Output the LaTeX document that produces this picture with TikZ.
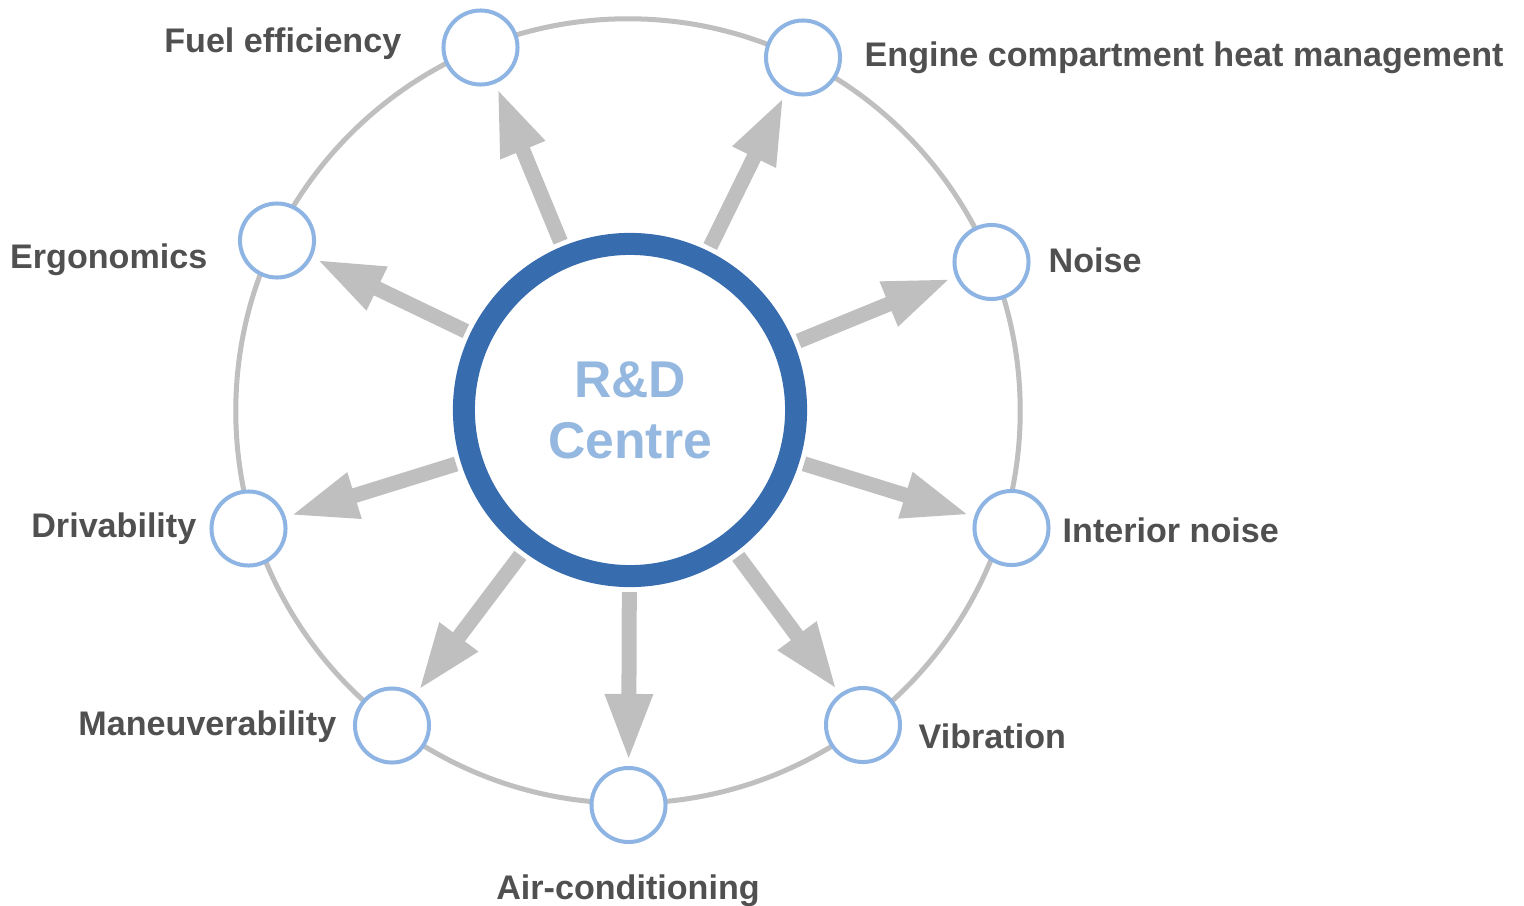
\documentclass[tikz,border=0pt]{standalone}
\usepackage{fontspec}
\setmainfont{Liberation Sans}
\usetikzlibrary{arrows.meta}

\definecolor{ringblue}{HTML}{376CAE}
\definecolor{lightblue}{HTML}{95B8E0}
\definecolor{edgeblue}{HTML}{8EB4E3}
\definecolor{arrowgray}{HTML}{BFBFBF}
\definecolor{textgray}{HTML}{505050}

\tikzset{
  topic/.style={circle, draw=edgeblue, fill=white, line width=0.04cm,
    minimum size=0.74cm, inner sep=0pt},
  centre/.style={circle, draw=ringblue, fill=white, line width=0.22cm,
    minimum size=3.32cm, inner sep=0pt, text=lightblue, align=center,
    font=\fontsize{14.7}{17.3}\selectfont\bfseries},
  lbl/.style={text=textgray, inner sep=0pt,
    font=\fontsize{9.7}{11}\selectfont\bfseries},
  push/.style={draw=arrowgray, line width=0.15cm,
    -{Triangle[width=0.44cm,length=0.67cm]},
    shorten <=0.05cm, shorten >=0.05cm}
}

\begin{document}
\begin{tikzpicture}[x=0.01cm, y=-0.01cm]
	\useasboundingbox (0,0) rectangle (1524,906);

	% grauer Ring
	\draw[arrowgray, line width=0.05cm] (628,411) circle [radius=3.92cm];
	% Zentrum
	\node[centre] (rd) at (630,410) {R\&D\\Centre};
	% Themen
	\node[topic] (fuel) at (480.5,47.5) {};
	\node[topic] (engine) at (803,57.5) {};
	\node[topic] (noise) at (991.5,262) {};
	\node[topic] (interior) at (1011.5,528) {};
	\node[topic] (vibration) at (863,725) {};
	\node[topic] (aircon) at (628.5,805) {};
	\node[topic] (manoeuvre) at (392,725.5) {};
	\node[topic] (drive) at (248.5,528.5) {};
	\node[topic] (ergo) at (277,240.5) {};
	% Pfeile
	\foreach \t in {fuel,engine,noise,interior,vibration,aircon,manoeuvre,drive,ergo}
		\draw[push] (rd) -- (\t);
	% Beschriftung
	\node[lbl, anchor=base east] (fuel-l) at (402,52) {Fuel efficiency};
	\node[lbl, anchor=base west] (engine-l) at (864,66) {Engine compartment heat management};
	\node[lbl, anchor=base west] (noise-l) at (1048,272) {Noise};
	\node[lbl, anchor=base west] (interior-l) at (1062,542) {Interior noise};
	\node[lbl, anchor=base west] (vibration-l) at (918,748) {Vibration};
	\node[lbl, anchor=base] (aircon-l) at (628,899) {Air-conditioning};
	\node[lbl, anchor=base east] (manoeuvre-l) at (337,735) {Maneuverability};
	\node[lbl, anchor=base east] (drive-l) at (197,537) {Drivability};
	\node[lbl, anchor=base east] (ergo-l) at (208,268) {Ergonomics};
\end{tikzpicture}
\end{document}
